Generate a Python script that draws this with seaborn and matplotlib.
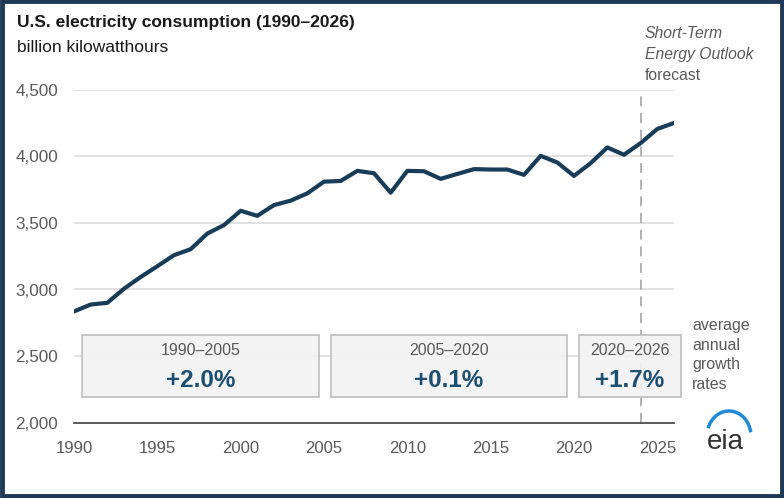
"""U.S. electricity consumption 1990-2026 with average annual growth-rate boxes."""

import matplotlib

matplotlib.use("Agg")
import matplotlib.pyplot as plt
import pandas as pd
import seaborn as sns
from matplotlib.patches import Arc, Rectangle

# --- data ------------------------------------------------------------------
years = list(range(1990, 2027))
consumption = [
    2835, 2887, 2900, 3006, 3094, 3175, 3258, 3303, 3421, 3484,
    3592, 3554, 3635, 3668, 3723, 3811, 3816, 3892, 3874, 3728,
    3892, 3889, 3832, 3869, 3905, 3902, 3902, 3862, 4005, 3955,
    3854, 3950, 4068, 4013, 4101, 4207, 4252,
]
forecast_start = 2024

period_labels = ["1990\u20132005", "2005\u20132020", "2020\u20132026"]
period_rates = ["+2.0%", "+0.1%", "+1.7%"]

y_ticks = [2000, 2500, 3000, 3500, 4000, 4500]
x_ticks = [1990, 1995, 2000, 2005, 2010, 2015, 2020, 2025]

# --- layout -----------------------------------------------------------------
box_spans = [(1990.5, 2004.7), (2005.4, 2019.6), (2020.3, 2026.4)]
box_bottom, box_top = 2190, 2655

LINE = "#183d58"
GREY = "#595959"
RATE = "#1d4f72"

sns.set_style("white")
plt.rcParams["font.family"] = ["Liberation Sans", "DejaVu Sans"]

df = pd.DataFrame({"year": years, "value": consumption})

fig = plt.figure(figsize=(7.84, 4.98), dpi=100)
ax = fig.add_axes([74 / 784, 1 - 422.5 / 498, 600 / 784, 332.5 / 498])

ax.set_xlim(1990, 2026)
ax.set_ylim(2000, 4500)
ax.set_yticks(y_ticks)
ax.set_xticks(x_ticks)
ax.set_yticklabels([f"{v:,}" for v in y_ticks])
for y in y_ticks[1:]:
    ax.axhline(y, color="#dcdcdc", lw=1.2, zorder=0)

ax.axvline(forecast_start, ymax=1, color="#a6a6a6", lw=1.2, ls=(0, (6, 4)), zorder=1)

sns.lineplot(data=df, x="year", y="value", ax=ax, color=LINE, lw=3, zorder=3)
ax.set_xlabel("")
ax.set_ylabel("")

for (x0, x1), lab, rate in zip(box_spans, period_labels, period_rates):
    ax.add_patch(Rectangle((x0, box_bottom), x1 - x0, box_top - box_bottom,
                           facecolor="#f2f2f2", edgecolor="#bdbdbd", lw=1.3,
                           alpha=0.92, clip_on=False, zorder=2))
    xc = (x0 + x1) / 2
    ax.text(xc, 2540, lab, ha="center", va="center", fontsize=11.5, color=GREY, zorder=4)
    ax.text(xc, 2315, rate, ha="center", va="center", fontsize=17.5, color=RATE,
            fontweight="bold", zorder=4)

for side in ["left", "right", "top"]:
    ax.spines[side].set_visible(False)
ax.spines["bottom"].set_color("#404040")
ax.spines["bottom"].set_linewidth(1.2)
ax.tick_params(axis="x", direction="out", length=6, width=1.2, color="#404040",
               labelsize=12, labelcolor=GREY, pad=7)
ax.tick_params(axis="y", length=0, labelsize=12.3, labelcolor=GREY, pad=11.5)

# titles and side notes
fig.text(17 / 784, 1 - 23 / 498, "U.S. electricity consumption (1990\u20132026)",
         fontsize=12.5, fontweight="bold", color="#1a1a1a", va="center")
fig.text(17 / 784, 1 - 47 / 498, "billion kilowatthours", fontsize=12.5,
         color="#1a1a1a", va="center")
fig.text(645 / 784, 1 - 33 / 498, "Short-Term", fontsize=11.3, style="italic",
         color=GREY, va="center")
fig.text(645 / 784, 1 - 55 / 498, "Energy Outlook", fontsize=11.3, style="italic",
         color=GREY, va="center")
fig.text(645 / 784, 1 - 76 / 498, "forecast", fontsize=11.3, color=GREY, va="center")
fig.text(692 / 784, 1 - 355 / 498, "average\nannual\ngrowth\nrates", fontsize=11.5,
         color=GREY, va="center", linespacing=1.38)

# eia mark
fig.text(725 / 784, 1 - 442 / 498, "eia", fontsize=20, color="#333333",
         ha="center", va="center")
fig.add_artist(Arc((729 / 784, 1 - 436 / 498), 44 / 784, 50 / 498, theta1=15,
                   theta2=150, color="#1f8ad6", lw=2.5, transform=fig.transFigure))

fig.add_artist(Rectangle((0.002, 0.004), 0.995, 0.993, transform=fig.transFigure,
                         fill=False, edgecolor="#1f3a56", lw=3.5))

fig.savefig("out.png", dpi=100)
